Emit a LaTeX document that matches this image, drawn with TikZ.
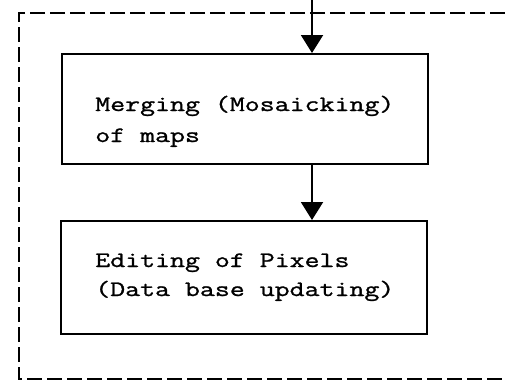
\documentclass[tikz,border=0pt]{standalone}
\usepackage{fontspec}
\setmonofont[FakeStretch=1.32,FakeBold=1.2]{Latin Modern Mono}
\usetikzlibrary{arrows.meta}
\begin{document}
\begin{tikzpicture}[x=0.75pt,y=-0.75pt,
  procbox/.style={draw,line width=1.5pt,rectangle,inner sep=0pt,
                  minimum width=366*0.75pt,anchor=north west},
  label/.style={font=\ttfamily\fontsize{16.5pt}{22.5pt}\selectfont,
                inner sep=0pt,anchor=base west},
  flow/.style={line width=1.5pt,-{Triangle[length=13.5pt,width=16.5pt]}},
  frame/.style={line width=1.4pt,dash pattern=on 11pt off 4pt}]
\useasboundingbox (0,0) rectangle (505,382);
% dashed enclosing frame (open on the right)
\coordinate (ftr) at (505,13);
\coordinate (ftl) at (19,13);
\coordinate (fbl) at (19,379);
\coordinate (fbr) at (505,379);
\draw[frame] (ftr) -- (ftl) -- (fbl) -- (fbr);
% processing boxes
\node[procbox,minimum height=110*0.75pt] (merge) at (61,53) {};
\node[procbox,minimum height=113*0.75pt] (edit) at (60,220) {};
\node[label] (mergeA) at (95,111) {Merging (Mosaicking)};
\node[label] (mergeB) at (95,142) {of maps};
\node[label] (editA) at (95,267) {Editing of Pixels};
\node[label] (editB) at (95,296) {(Data base updating)};
% flow arrows
\coordinate (in) at (312,0);
\draw[flow] (in) -- (in |- merge.north);
\draw[flow] (merge.south -| in) -- (edit.north -| in);
\end{tikzpicture}
\end{document}
